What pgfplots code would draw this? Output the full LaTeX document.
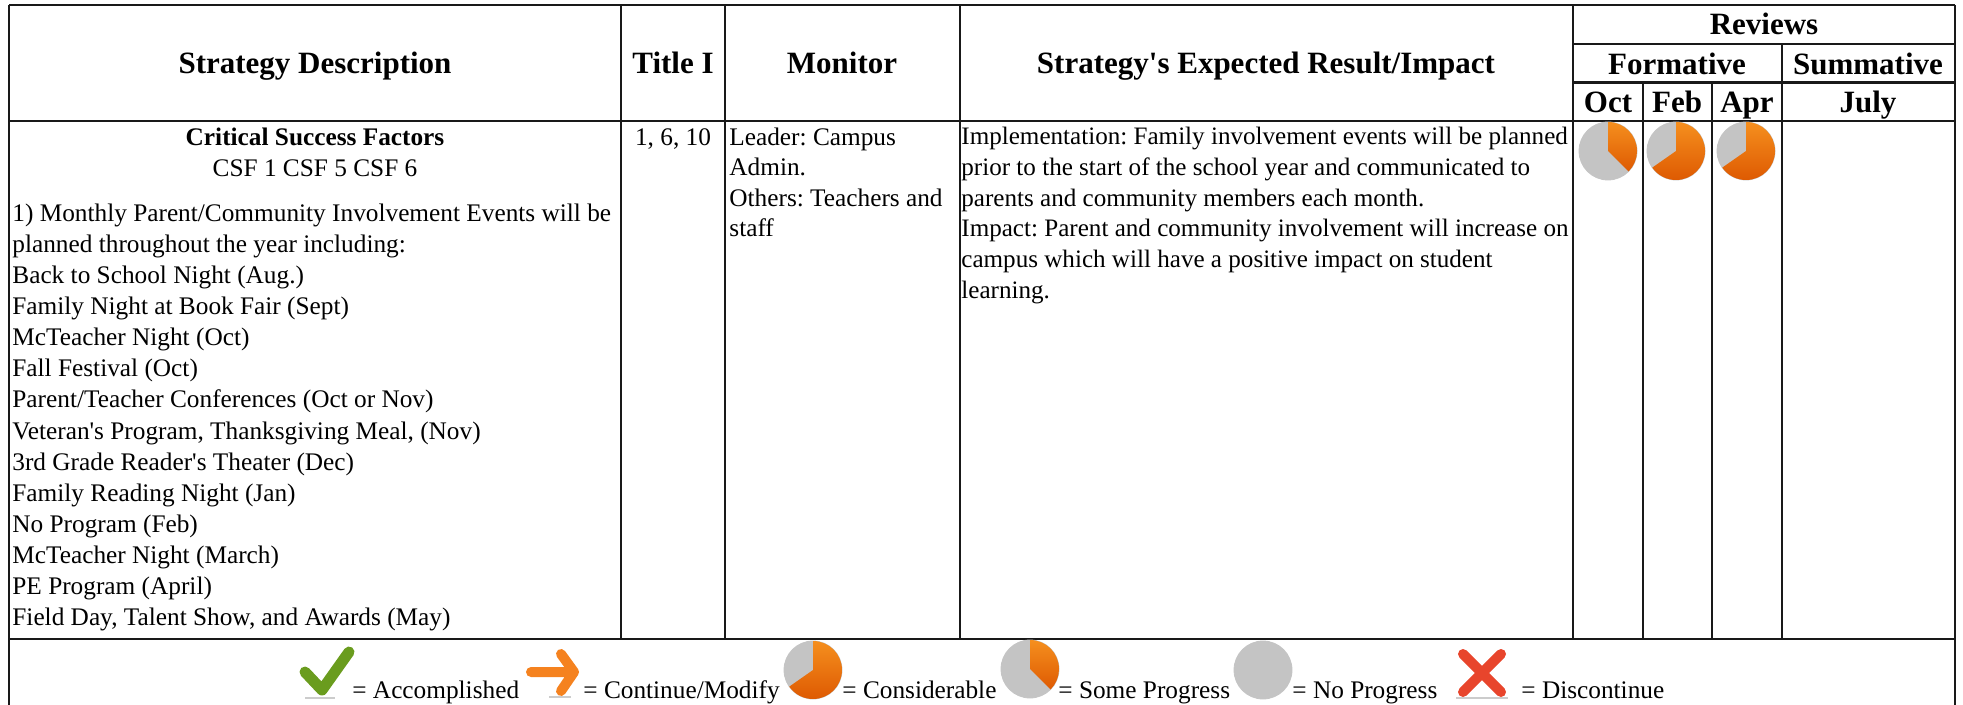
\documentclass[border=0pt]{standalone}
\usepackage{pgfplots}
\pgfplotsset{compat=1.18}
\usepackage{fontspec}
\setmainfont{Liberation Serif}
\frenchspacing
\definecolor{pgrey}{HTML}{C4C4C4}
\definecolor{otop}{HTML}{F58F1E}
\definecolor{obot}{HTML}{DE5A02}
\pgfdeclareplotmark{pieSome}{%
  \fill[pgrey] (0,0) circle[radius=14.5pt];
  \shade[top color=otop,bottom color=obot,draw=none] (0,0) -- (0,14.5pt) arc[start angle=90,end angle=-45,radius=14.5pt] -- cycle;}
\pgfdeclareplotmark{pieCons}{%
  \fill[pgrey] (0,0) circle[radius=14.5pt];
  \shade[top color=otop,bottom color=obot,draw=none] (0,0) -- (0,14.5pt) arc[start angle=90,end angle=-145,radius=14.5pt] -- cycle;}
\pgfdeclareplotmark{pieNone}{\fill[pgrey] (0,0) circle[radius=14.5pt];}
\definecolor{okg}{HTML}{6A9C1E}
\definecolor{aro}{HTML}{F5821F}
\definecolor{xred}{HTML}{E8452C}
\pgfdeclareplotmark{okCheck}{%
  \draw[color=black!20,line width=0.8pt] (-11pt,-13pt) -- (4pt,-13pt);
  \draw[color=okg,line width=5.5pt,line cap=round,line join=round] (-11pt,0pt) -- (-2.5pt,-9pt) -- (11pt,10pt);}
\pgfdeclareplotmark{goArrow}{%
  \draw[color=black!20,line width=0.8pt] (-2pt,-12.5pt) -- (9pt,-12.5pt);
  \draw[color=aro,line width=5pt,line cap=round,line join=round] (-11pt,0pt) -- (9pt,0pt) (4pt,9pt) -- (10.5pt,0pt) -- (4pt,-9.5pt);}
\pgfdeclareplotmark{noCross}{%
  \draw[color=black!20,line width=0.8pt] (-13pt,-12.5pt) -- (13pt,-12.5pt);
  \draw[color=xred,line width=5pt,line cap=round] (-9.5pt,-9.5pt) -- (9.5pt,9.5pt) (-9.5pt,9.5pt) -- (9.5pt,-9.5pt);}
\newcommand{\hl}[3]{\addplot[line width=1.2pt,color=black!90] coordinates {(#1,#3) (#2,#3)};}
\newcommand{\vl}[3]{\addplot[line width=1.2pt,color=black!90] coordinates {(#3,#1) (#3,#2)};}
\newcommand{\tl}[3]{\node[anchor=base west,inner sep=0pt,font=\fontsize{12.65pt}{15pt}\selectfont] at (axis cs:#1,#2) {#3};}
\newcommand{\ts}[3]{\node[anchor=base west,inner sep=0pt,font=\fontsize{12.55pt}{15pt}\selectfont] at (axis cs:#1,#2) {#3};}
\newcommand{\tc}[3]{\node[anchor=base,inner sep=0pt,font=\fontsize{12.65pt}{15pt}\selectfont] at (axis cs:#1,#2) {#3};}
\newcommand{\hc}[3]{\node[anchor=base,inner sep=0pt,font=\fontsize{15.5pt}{18pt}\selectfont\bfseries] at (axis cs:#1,#2) {#3};}
\begin{document}
\begin{tikzpicture}
\begin{axis}[scale only axis,width=981.5pt,height=352.5pt,xmin=0,xmax=1963,ymin=0,ymax=705,y dir=reverse,hide axis,clip=false]
\path[use as bounding box] (axis cs:0,0) rectangle (axis cs:1963,705);
% table rules
\hl{9}{1955}{5}
\hl{1573}{1955}{44}
\hl{1573}{1955}{82.5}
\hl{9}{1955}{121}
\hl{9}{1955}{639}
\vl{5}{705}{9}
\vl{5}{705}{1955}
\vl{5}{639}{621}
\vl{5}{639}{725}
\vl{5}{639}{960}
\vl{5}{639}{1573}
\vl{82.5}{639}{1643}
\vl{82.5}{639}{1712}
\vl{44}{639}{1782}
% pies
\addplot[only marks,mark=pieSome] coordinates {(1608,151) (1030,669)};
\addplot[only marks,mark=pieCons] coordinates {(1676,151) (1746,151) (813,670)};
\addplot[only marks,mark=pieNone] coordinates {(1263,670)};
\addplot[only marks,mark=okCheck] coordinates {(327,672)};
\addplot[only marks,mark=goArrow] coordinates {(553,672)};
\addplot[only marks,mark=noCross] coordinates {(1482,673)};
% headers
\hc{315}{74}{Strategy Description}
\hc{673}{74}{Title I}
\hc{842}{74}{Monitor}
\hc{1266}{74}{Strategy\textquotesingle s Expected Result/Impact}
\hc{1764}{35}{Reviews}
\hc{1677}{74.5}{Formative}
\hc{1868}{74.5}{Summative}
\hc{1608}{113}{Oct}
\hc{1677}{113}{Feb}
\hc{1747}{113}{Apr}
\hc{1868}{113}{July}
% column 1
\tc{315}{146}{\bfseries Critical Success Factors}
\tc{315}{177}{CSF 1 CSF 5 CSF 6}
\tl{12}{222}{1) Monthly Parent/Community Involvement Events will be}
\tl{12}{253}{planned throughout the year including:}
\tl{12}{284}{Back to School Night (Aug.)}
\tl{12}{315}{Family Night at Book Fair (Sept)}
\tl{12}{346}{McTeacher Night (Oct)}
\tl{12}{377}{Fall Festival (Oct)}
\tl{12}{408}{Parent/Teacher Conferences (Oct or Nov)}
\tl{12}{439}{Veteran\textquotesingle s Program, Thanksgiving Meal, (Nov)}
\tl{12}{470}{3rd Grade Reader\textquotesingle s Theater (Dec)}
\tl{12}{501}{Family Reading Night (Jan)}
\tl{12}{532}{No Program (Feb)}
\tl{12}{563}{McTeacher Night (March)}
\tl{12}{594}{PE Program (April)}
\tl{12}{625}{Field Day, Talent Show, and Awards (May)}
% others
\tc{673}{146}{1, 6, 10}
\tl{729}{146}{Leader: Campus}
\tl{729}{176}{Admin.}
\tl{729}{207}{Others: Teachers and}
\tl{729}{237}{staff}
\ts{961}{145}{Implementation: Family involvement events will be planned}
\ts{961}{176}{prior to the start of the school year and communicated to}
\ts{961}{207}{parents and community members each month.}
\ts{961}{237}{Impact: Parent and community involvement will increase on}
\ts{961}{268}{campus which will have a positive impact on student}
\ts{961}{299}{learning.}
% legend
\tl{352}{698}{= Accomplished}
\tl{583}{698}{= Continue/Modify}
\tl{842}{698}{= Considerable}
\tl{1058}{698}{= Some Progress}
\tl{1292}{698}{= No Progress}
\tl{1521}{698}{= Discontinue}
\end{axis}
\end{tikzpicture}
\end{document}
